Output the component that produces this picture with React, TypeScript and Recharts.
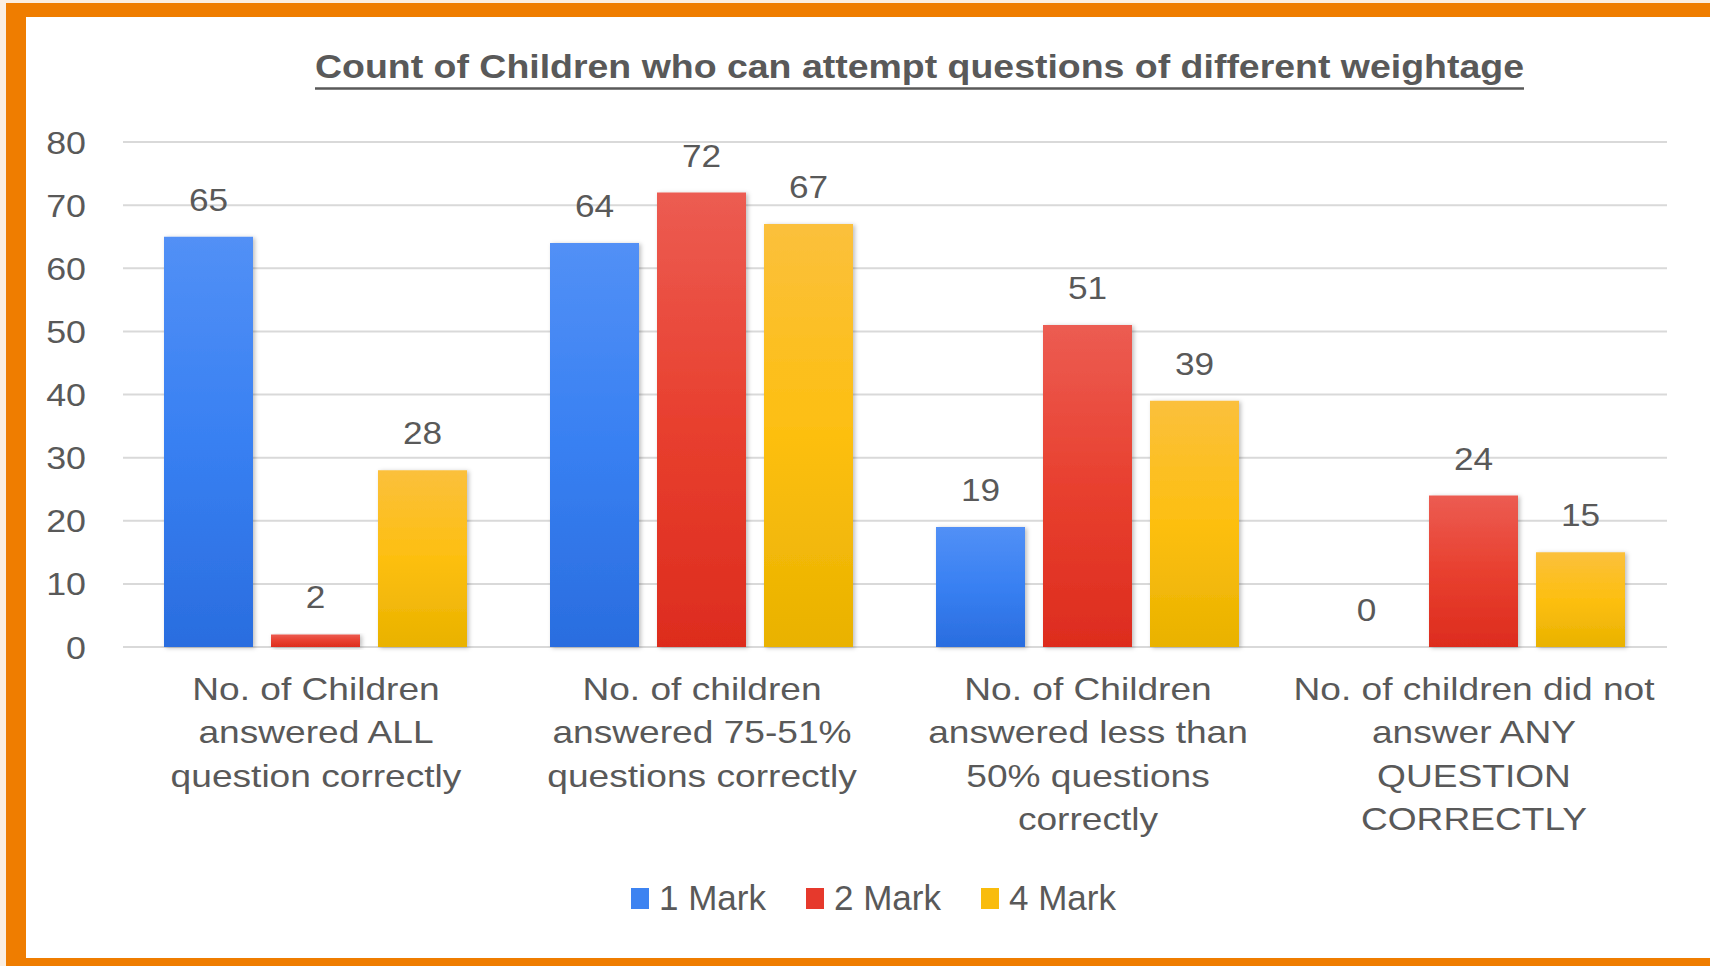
import { BarChart, Bar, XAxis, YAxis, CartesianGrid, LabelList } from 'recharts'

const categories = [
  'No. of Children answered ALL question correctly',
  'No. of children answered 75-51% questions correctly',
  'No. of Children answered less than 50% questions correctly',
  'No. of children did not answer ANY QUESTION CORRECTLY',
]

// how the category names wrap under the axis
const categoryLines = [
  ['No. of Children', 'answered ALL', 'question correctly'],
  ['No. of children', 'answered 75-51%', 'questions correctly'],
  ['No. of Children', 'answered less than', '50% questions', 'correctly'],
  ['No. of children did not', 'answer ANY', 'QUESTION', 'CORRECTLY'],
]

const oneMark = [65, 64, 19, 0]
const twoMark = [2, 72, 51, 24]
const fourMark = [28, 67, 39, 15]

const yTicks = [0, 10, 20, 30, 40, 50, 60, 70, 80]

const seriesNames = ['1 Mark', '2 Mark', '4 Mark']

const data = categories.map((c, i) => ({
  category: c,
  one: oneMark[i],
  two: twoMark[i],
  four: fourMark[i],
}))

const TEXT = '#595959'
const FONT = '"Liberation Sans", Arial, sans-serif'
const legendColors = ['#3d83f1', '#e6392c', '#f9bc0c']

function YTick({ x, y, payload }: any) {
  return (
    <g transform={`translate(${x},${y})`}>
      <text transform="scale(1.12,1)" textAnchor="end" dy="0.36em" fontSize={32} fill={TEXT} fontFamily={FONT}>
        {payload.value}
      </text>
    </g>
  )
}

function XTick({ x, y, index }: any) {
  const lines = categoryLines[index] || []
  return (
    <g transform={`translate(${x},${y})`}>
      {lines.map((l, i) => (
        <text
          key={i}
          transform={`translate(0,${53 + i * 43.4}) scale(1.16,1)`}
          textAnchor="middle"
          fontSize={32}
          fill={TEXT}
          fontFamily={FONT}
        >
          {l}
        </text>
      ))}
    </g>
  )
}

function ValueLabel({ x, y, width, value }: any) {
  return (
    <g transform={`translate(${x + width / 2},${y - 26})`}>
      <text transform="scale(1.1,1)" textAnchor="middle" fontSize={32} fill={TEXT} fontFamily={FONT}>
        {value}
      </text>
    </g>
  )
}

export default function App() {
  return (
    <div style={{ position: 'absolute', left: 0, top: 0, width: 1710, height: 966, background: '#fbeee0', overflow: 'hidden' }}>
      {/* orange frame */}
      <div style={{ position: 'absolute', left: 6, top: 3, right: 0, bottom: 0, background: '#ef7d00' }} />
      <div style={{ position: 'absolute', left: 26, top: 17, right: 0, bottom: 8, background: '#ffffff' }} />

      <svg width={1710} height={120} style={{ position: 'absolute', left: 0, top: 0 }}>
        <text
          x={315}
          y={78}
          fontSize={33}
          fontWeight="bold"
          fill={TEXT}
          fontFamily={FONT}
          textLength={1209}
          lengthAdjust="spacingAndGlyphs"
        >
          Count of Children who can attempt questions of different weightage
        </text>
        <line x1={315} x2={1524} y1={88.5} y2={88.5} stroke={TEXT} strokeWidth={2.5} />
      </svg>

      <div style={{ position: 'absolute', left: 0, top: 0 }}>
        <BarChart
          width={1710}
          height={966}
          data={data}
          margin={{ top: 142, right: 43, left: 0, bottom: 0 }}
          barCategoryGap={41}
          barGap={18}
        >
          <defs>
            <linearGradient id="gBlue" x1="0" y1="0" x2="0" y2="1">
              <stop offset="0%" stopColor="#5290f6" />
              <stop offset="50%" stopColor="#3880f2" />
              <stop offset="100%" stopColor="#2a6ddf" />
            </linearGradient>
            <linearGradient id="gRed" x1="0" y1="0" x2="0" y2="1">
              <stop offset="0%" stopColor="#ec5c52" />
              <stop offset="50%" stopColor="#e8402f" />
              <stop offset="100%" stopColor="#dd2c1e" />
            </linearGradient>
            <linearGradient id="gYellow" x1="0" y1="0" x2="0" y2="1">
              <stop offset="0%" stopColor="#fbc03c" />
              <stop offset="50%" stopColor="#fdbf10" />
              <stop offset="100%" stopColor="#e9b200" />
            </linearGradient>
            <filter id="shadow" x="-10%" y="-10%" width="130%" height="130%">
              <feDropShadow dx={2} dy={1} stdDeviation={2} floodColor="#000" floodOpacity={0.25} />
            </filter>
          </defs>
          <CartesianGrid vertical={false} stroke="#d9d9d9" strokeWidth={2} />
          <XAxis
            dataKey="category"
            axisLine={false}
            tickLine={false}
            tickSize={0}
            tickMargin={0}
            height={319}
            interval={0}
            tick={<XTick />}
          />
          <YAxis
            domain={[0, 80]}
            ticks={yTicks}
            axisLine={false}
            tickLine={false}
            tickSize={0}
            tickMargin={37}
            width={123}
            tick={<YTick />}
          />
          <Bar
            dataKey="one"
            name={seriesNames[0]}
            fill="url(#gBlue)"
            filter="url(#shadow)"
            minPointSize={0.1}
            isAnimationActive={false}
          >
            <LabelList dataKey="one" content={<ValueLabel />} />
          </Bar>
          <Bar dataKey="two" name={seriesNames[1]} fill="url(#gRed)" filter="url(#shadow)" isAnimationActive={false}>
            <LabelList dataKey="two" content={<ValueLabel />} />
          </Bar>
          <Bar dataKey="four" name={seriesNames[2]} fill="url(#gYellow)" filter="url(#shadow)" isAnimationActive={false}>
            <LabelList dataKey="four" content={<ValueLabel />} />
          </Bar>
        </BarChart>
      </div>

      {/* legend */}
      <div
        style={{
          position: 'absolute',
          left: 631,
          top: 878,
          height: 40,
          display: 'flex',
          alignItems: 'center',
          fontFamily: FONT,
          fontSize: 35,
          color: TEXT,
        }}
      >
        {seriesNames.map((n, i) => (
          <div key={n} style={{ display: 'flex', alignItems: 'center', marginRight: 40 }}>
            <span style={{ display: 'inline-block', width: 18, height: 21, background: legendColors[i], marginRight: 10 }} />
            <span>{n}</span>
          </div>
        ))}
      </div>
    </div>
  )
}
